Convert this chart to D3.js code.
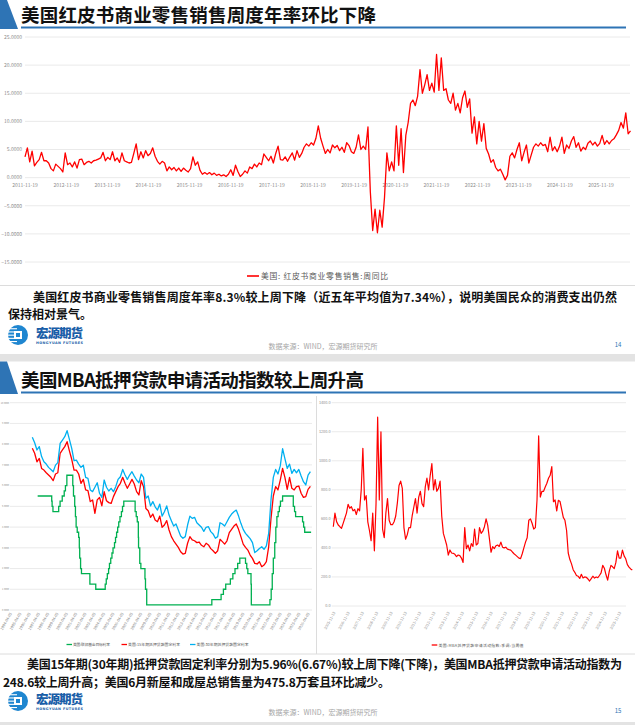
<!DOCTYPE html>
<html><head><meta charset="utf-8">
<script src="https://cdn.jsdelivr.net/npm/d3@7"></script>
<style>body{margin:0;background:#fff}svg{display:block}</style>
</head><body><svg id="c" width="635" height="725"></svg>
<script>
// ---------- Slide 14: Redbook weekly YoY ----------
const redbookTitle = "美国红皮书商业零售销售周度年率环比下降";
const redbookLegend = "美国: 红皮书商业零售销售:周同比";
const redbookStart = "2011-11-19";
const redbookStepDays = 21;
const redbookValues = [3.7,5.3,2.8,4.7,2.1,2.7,3.2,4.5,3.0,
3.0,2.6,1.6,1.2,2.4,2.0,1.6,1.0,
4.4,2.3,2.6,1.9,2.8,1.7,3.2,3.3,2.3,
2.7,2.9,2.6,3.0,3.1,3.3,3.5,4.5,3.0,
3.6,3.2,4.6,3.0,3.5,2.7,4.4,3.0,
2.8,2.6,2.7,4.3,6.0,3.2,4.6,3.5,4.8,
3.9,4.3,5.3,3.8,2.9,2.4,2.9,2.6,
1.2,1.9,1.4,1.8,1.2,1.7,1.1,1.7,1.3,
1.0,1.6,3.7,2.2,2.8,1.3,0.6,0.9,0.6,
0.9,0.5,0.8,0.4,0.6,0.3,0.5,0.2,
0.6,1.4,0.4,2.2,1.1,0.2,0.6,1.2,0.8,
1.9,1.6,2.4,1.9,2.6,2.3,4.2,3.6,
3.0,3.8,2.6,4.3,5.6,3.2,3.1,3.7,2.9,
3.7,4.4,3.1,4.8,3.6,4.3,5.4,6.0,5.6,
6.2,5.8,7.0,9.2,7.0,5.6,4.3,5.0,
4.4,5.8,5.3,5.7,4.8,5.4,4.5,6.2,
5.7,4.6,4.3,5.4,7.6,5.0,5.6,5.0,9.0,
-2.5,-9.4,-5.6,-9.8,-5.8,-8.8,-3.5,4.4,1.2,
2.8,1.2,9.2,2.2,8.7,0.9,7.5,9.8,
13.2,13.8,12.8,14.5,19.2,15.0,16.5,18.3,15.5,16.8,15.2,21.9,15.5,21.3,15.5,15.8,13.8,13.2,15.0,12.0,13.2,11.5,14.2,15.4,12.5,14.0,
7.9,10.8,6.0,10.0,6.5,9.6,5.2,4.2,2.7,3.2,1.8,1.2,1.5,0.6,-0.4,0.4,3.8,4.4,3.5,5.0,6.2,
3.0,4.5,5.8,2.6,4.0,5.4,6.0,5.6,6.2,5.7,5.9,4.6,7.2,4.8,5.5,4.6,5.6,7.2,4.3,5.8,5.2,6.5,7.3,5.4,6.2,4.7,5.4,5.0,6.1,6.5,5.8,6.3,5.6,6.1,7.5,5.9,6.6,6.0,6.6,6.9,7.6,8.4,9.8,8.8,11.5,7.8,8.3];
const redbookXTicks = ["2011-11-19","2012-11-19","2013-11-19","2014-11-19","2015-11-19","2016-11-19","2017-11-19","2018-11-19","2019-11-19","2020-11-19","2021-11-19","2022-11-19","2023-11-19","2024-11-19","2025-11-19"];
const redbookYTicks = [25,20,15,10,5,0,-5,-10,-15];
const text14 = ["美国红皮书商业零售销售周度年率8.3%较上周下降（近五年平均值为7.34%），说明美国民众的消费支出仍然","保持相对景气。"];

// ---------- Slide 15: mortgage rates & MBA ----------
const mbaTitle = "美国MBA抵押贷款申请活动指数较上周升高";
const rateNames = ["美国:联邦基金目标利率","美国:15年期抵押贷款固定利率","美国:30年期抵押贷款固定利率"];
const mortgageStart = "1996-08-29";
const mortgageStepDays = 91;
const rate30 = [8.33,8.07,7.72,7.88,7.40,7.15,7.04,6.88,6.78,6.67,
6.99,7.11,8.04,8.20,8.36,8.65,8.23,7.80,7.20,7.23,
7.04,6.88,6.99,6.40,6.35,5.79,5.71,5.92,6.14,5.63,
5.43,6.27,5.92,5.74,5.87,5.71,5.95,6.30,6.43,6.78,
6.51,6.30,6.51,6.67,6.46,6.27,6.14,6.56,6.40,5.39,
5.50,5.02,5.23,4.98,4.82,5.11,4.53,4.74,5.02,4.58,
4.31,4.05,4.15,3.86,3.57,3.46,3.54,4.10,4.53,4.42,
4.47,4.21,4.10,3.99,3.79,3.99,4.02,3.78,3.67,3.46,
3.54,4.21,4.15,4.05,4.26,4.47,4.63,4.74,4.82,4.53,
4.18,3.89,3.70,3.57,3.44,3.25,2.77,2.86,2.97,3.05,
2.93,3.09,3.70,5.31,6.40,6.78,6.56,6.95,7.78,7.30,
6.83,7.04,6.59,6.78,6.62,6.78,6.46,6.19,6.03,6.51,6.67];
const rate15 = [7.80,7.56,7.15,7.31,6.83,6.75,6.62,6.51,6.40,6.24,
6.56,6.62,7.56,7.72,7.88,8.12,7.68,7.27,6.75,6.75,
6.56,6.11,6.30,5.79,5.76,5.23,5.31,4.66,5.31,5.43,
5.02,5.71,5.27,5.18,5.14,5.47,5.71,5.95,6.11,6.40,
6.11,5.87,6.08,6.30,6.08,5.71,5.55,6.24,5.95,4.90,
4.79,4.47,4.63,4.34,4.26,4.53,3.99,4.10,4.31,3.86,
3.54,3.34,3.18,3.02,2.81,2.70,2.73,3.22,3.54,3.38,
3.34,3.25,3.28,3.12,3.05,3.22,3.14,2.96,2.86,2.73,
2.86,3.41,3.30,3.18,3.34,3.73,3.89,4.05,4.15,3.89,
3.54,3.18,3.02,2.89,2.65,2.49,2.25,2.22,2.33,2.09,
2.17,2.33,3.05,4.42,5.50,5.95,5.79,6.27,6.83,6.40,
5.82,6.40,5.87,5.79,5.95,5.98,5.63,5.43,5.47,5.82,5.96];
const fedDates = ["1997-03-26","1998-09-29","1998-10-15","1998-11-17","1999-06-30","1999-08-24","1999-11-16","2000-02-02","2000-03-21","2000-05-16",
"2001-01-03","2001-01-31","2001-03-20","2001-04-18","2001-05-15","2001-06-27","2001-08-21","2001-09-17","2001-10-02","2001-11-06","2001-12-11",
"2002-11-06","2003-06-25","2004-06-30","2004-08-10","2004-09-21","2004-11-10","2004-12-14","2005-02-02","2005-03-22","2005-05-03","2005-06-30",
"2005-08-09","2005-09-20","2005-11-01","2005-12-13","2006-01-31","2006-03-28","2006-05-10","2006-06-29","2007-09-18","2007-10-31","2007-12-11",
"2008-01-22","2008-01-30","2008-03-18","2008-04-30","2008-10-08","2008-10-29","2008-12-16","2015-12-17","2016-12-15","2017-03-16","2017-06-15",
"2017-12-14","2018-03-22","2018-06-14","2018-09-27","2018-12-20","2019-08-01","2019-09-19","2019-10-31","2020-03-04","2020-03-16","2022-03-17",
"2022-05-05","2022-06-16","2022-07-28","2022-09-22","2022-11-03","2022-12-15","2023-02-02","2023-03-23","2023-05-04","2023-07-27","2024-09-19",
"2024-11-08","2024-12-19","2025-09-18","2025-10-30","2025-12-11","2026-08-20"];
const fedRates = [5.50,5.25,5.00,4.75,5.00,5.25,5.50,5.75,6.00,6.50,
6.00,5.50,5.00,4.50,4.00,3.75,3.50,3.00,2.50,2.00,1.75,
1.25,1.00,1.25,1.50,1.75,2.00,2.25,2.50,2.75,3.00,3.25,
3.50,3.75,4.00,4.25,4.50,4.75,5.00,5.25,4.75,4.50,4.25,
3.50,3.00,2.25,2.00,1.50,1.00,0.25,0.50,0.75,1.00,1.25,
1.50,1.75,2.00,2.25,2.50,2.25,2.00,1.75,1.25,0.25,0.50,
1.00,1.75,2.50,3.25,4.00,4.50,4.75,5.00,5.25,5.50,5.00,
4.75,4.50,4.25,4.00,3.75,3.75];
const rateYTicks = [0,1,2,3,4,5,6,7,8,9,10];
const rateXTicks = ["1994-04-05","1995-04-05","1996-04-05","1997-04-05","1998-04-05","1999-04-05","2000-04-05","2001-04-05","2002-04-05","2003-04-05","2004-04-05","2005-04-05","2006-04-05","2007-04-05","2008-04-05","2009-04-05","2010-04-05","2011-04-05","2012-04-05","2013-04-05","2014-04-05","2015-04-05","2016-04-05","2017-04-05","2018-04-05","2019-04-05","2020-04-05","2021-04-05","2022-04-05","2023-04-05","2024-04-05","2025-04-05","2026-04-05"];

const mbaName = "美国:MBA抵押贷款申请活动指数:季调:当周值";
const mbaStart = "2005-11-13";
const mbaStepDays = 42;
const mbaValues = [546,640,581,558,546,535,569,604,640,700,
673,684,655,665,630,670,655,800,1086,730,
760,580,520,450,640,380,700,1300,730,1200,
530,470,640,740,590,560,560,580,620,710,
830,860,810,540,460,490,540,540,620,680,
740,640,750,790,705,684,822,880,800,900,
980,800,870,790,810,860,620,500,460,420,
351,386,365,363,356,340,351,347,330,300,
540,395,420,380,430,410,530,420,430,540,
500,515,546,600,555,466,370,409,395,415,
420,410,440,405,400,405,392,388,385,372,
360,350,340,330,326,360,400,440,470,590,
600,570,530,540,730,1171,750,790,790,820,
845,880,900,960,718,730,655,728,720,665,
610,590,520,365,320,290,250,232,210,205,
190,218,193,200,198,186,172,188,205,192,
200,195,210,228,280,260,215,178,240,280,
270,258,300,380,330,330,385,345,325,285,
268,255,248];
const mbaYTicks = [0,200,400,600,800,1000,1200,1400];
const mbaXTicks = ["2005-11-13","2006-11-13","2007-11-13","2008-11-13","2009-11-13","2010-11-13","2011-11-13","2012-11-13","2013-11-13","2014-11-13","2015-11-13","2016-11-13","2017-11-13","2018-11-13","2019-11-13","2020-11-13","2021-11-13","2022-11-13","2023-11-13","2024-11-13","2025-11-13"];
const text15 = ["美国15年期(30年期)抵押贷款固定利率分别为5.96%(6.67%)较上周下降(下降)，美国MBA抵押贷款申请活动指数为","248.6较上周升高；美国6月新屋和成屋总销售量为475.8万套且环比减少。"];
const sourceText = "数据来源：WIND，宏源期货研究所";
const pageNums = ["14","15"];

// ---------- drawing ----------
const FONT = "'Noto Sans CJK SC','Noto Sans',sans-serif";
const BLUE = "#2E74B5";
const GRID = "#e4e4e4";
const LABEL = "#8c8c8c";
const parse = d3.timeParse("%Y-%m-%d");
const svg = d3.select("#c");

function series(start, step, vals) {
  const s = parse(start);
  return vals.map((v, i) => ({date: d3.timeDay.offset(s, step * i), v}));
}

function header(top, bottom, title, len) {
  svg.append("polygon").attr("points", `0,${top} 7,${top} 18,${bottom} 0,${bottom}`).attr("fill", BLUE);
  svg.append("rect").attr("x", 21).attr("y", bottom - 2.5).attr("width", 605).attr("height", 2).attr("fill", BLUE);
  svg.append("text").attr("x", 21).attr("y", bottom - 7.5).attr("font-family", FONT).attr("font-weight", 700)
    .attr("font-size", 18.5).attr("fill", "#111").attr("textLength", len).attr("lengthAdjust", "spacing").text(title);
}

function logo(x, y, page) {
  const g = svg.append("g").attr("transform", `translate(${x},${y})`);
  g.append("circle").attr("cx", 10).attr("cy", 10).attr("r", 10).attr("fill", "#1f86d0");
  [3.2, 6.4, 9.6, 12.8, 16].forEach(yy => g.append("rect").attr("x", 0).attr("y", yy).attr("width", 9).attr("height", 1.1).attr("fill", "#fff"));
  g.append("rect").attr("x", 6).attr("y", 6).attr("width", 8).attr("height", 8).attr("fill", "#fff");
  g.append("rect").attr("x", 8).attr("y", 8).attr("width", 4).attr("height", 4).attr("fill", "#1f86d0");
  g.append("text").attr("x", 28).attr("y", 12.5).attr("font-family", FONT).attr("font-weight", 900).attr("font-size", 12.5)
    .attr("fill", "#1a5ea8").attr("textLength", 47).text("宏源期货");
  g.append("text").attr("x", 28).attr("y", 18.5).attr("font-family", "'DejaVu Sans',sans-serif").attr("font-weight", 700).attr("font-size", 3.4)
    .attr("fill", "#1a5ea8").attr("textLength", 47).text("HONGYUAN FUTURES");
  svg.append("text").attr("x", 323).attr("y", y + 23.5).attr("text-anchor", "middle").attr("font-family", FONT)
    .attr("font-size", 7).attr("fill", "#a6a6a6").text(sourceText);
  svg.append("text").attr("x", 618).attr("y", y + 22).attr("text-anchor", "middle").attr("font-family", FONT)
    .attr("font-size", 6).attr("fill", BLUE).text(page);
}

function body(lines, ys, xs, lens) {
  lines.forEach((t, i) => {
    const e = svg.append("text").attr("x", xs[i]).attr("y", ys[i]).attr("font-family", FONT).attr("font-weight", 700)
      .attr("font-size", 12).attr("fill", "#111").text(t);
    if (lens[i]) e.attr("textLength", lens[i]).attr("lengthAdjust", "spacing");
  });
}

// ===== Slide 14 =====
header(0, 29, redbookTitle, 355);
{
  const data = series(redbookStart, redbookStepDays, redbookValues);
  const x = d3.scaleTime().domain([parse("2011-11-19"), parse("2025-11-19")]).range([25, 601]);
  const y = d3.scaleLinear().domain([-15, 25]).range([262, 37]);
  const g = svg.append("g");
  redbookYTicks.forEach(t => {
    g.append("line").attr("x1", 25).attr("x2", 630).attr("y1", y(t)).attr("y2", y(t)).attr("stroke", GRID).attr("stroke-width", 0.8);
    g.append("text").attr("x", 22).attr("y", y(t)).attr("dy", "0.35em").attr("text-anchor", "end")
      .attr("font-family", FONT).attr("font-size", 5).attr("fill", LABEL).text(d3.format(".4f")(t));
  });
  redbookXTicks.forEach(t => {
    g.append("text").attr("x", x(parse(t))).attr("y", 187).attr("text-anchor", "middle")
      .attr("font-family", FONT).attr("font-size", 5).attr("fill", LABEL).text(t);
  });
  g.append("path").datum(data).attr("fill", "none").attr("stroke", "#FF0000").attr("stroke-width", 1.3)
    .attr("stroke-linejoin", "round").attr("d", d3.line().x(d => x(d.date)).y(d => y(d.v)));
  g.append("line").attr("x1", 247).attr("x2", 259).attr("y1", 276).attr("y2", 276).attr("stroke", "#FF0000").attr("stroke-width", 1.6);
  g.append("text").attr("x", 261).attr("y", 278.8).attr("font-family", FONT).attr("font-size", 7.8).attr("fill", "#595959")
    .attr("textLength", 127).text(redbookLegend);
  svg.append("line").attr("x1", 0).attr("x2", 635).attr("y1", 285.5).attr("y2", 285.5).attr("stroke", "#dcdcdc").attr("stroke-width", 1);
}
body(text14, [301.5, 319], [33, 8], [584, 0]);
logo(8, 325, pageNums[0]);
svg.append("rect").attr("x", 0).attr("y", 354).attr("width", 635).attr("height", 7.5).attr("fill", "#e3e3e3");

// ===== Slide 15 =====
header(361.5, 394, mbaTitle, 343);
{
  // left panel: rates
  const x = d3.scaleTime().domain([parse("1994-04-05"), parse("2026-09-24")]).range([10, 312]);
  const y = d3.scaleLinear().domain([0, 10]).range([610, 402.7]);
  const g = svg.append("g");
  rateYTicks.forEach(t => {
    g.append("line").attr("x1", 10).attr("x2", 312).attr("y1", y(t)).attr("y2", y(t)).attr("stroke", GRID).attr("stroke-width", 0.8);
    g.append("text").attr("x", 9).attr("y", y(t)).attr("dy", "0.35em").attr("text-anchor", "end")
      .attr("font-family", FONT).attr("font-size", 2.3).attr("fill", LABEL).text(d3.format(".4f")(t));
  });
  rateXTicks.forEach(t => {
    g.append("text").attr("transform", `translate(${x(parse(t)) + 1},613) rotate(-60)`).attr("text-anchor", "end")
      .attr("dy", "0.35em").attr("font-family", FONT).attr("font-size", 3.8).attr("fill", LABEL).text(t);
  });
  const fed = fedDates.map((d, i) => ({date: parse(d), v: fedRates[i]}));
  const line = d3.line().x(d => x(d.date)).y(d => y(d.v));
  g.append("path").datum(fed).attr("fill", "none").attr("stroke", "#00B050").attr("stroke-width", 1.3)
    .attr("d", d3.line().curve(d3.curveStepAfter).x(d => x(d.date)).y(d => y(d.v)));
  g.append("path").datum(series(mortgageStart, mortgageStepDays, rate15)).attr("fill", "none").attr("stroke", "#FF0000")
    .attr("stroke-width", 1.3).attr("stroke-linejoin", "round").attr("d", line);
  g.append("path").datum(series(mortgageStart, mortgageStepDays, rate30)).attr("fill", "none").attr("stroke", "#00B0F0")
    .attr("stroke-width", 1.3).attr("stroke-linejoin", "round").attr("d", line);
  const leg = [[66.5, "#00B050", 37], [121.5, "#FF0000", 52], [190, "#00B0F0", 52]];
  rateNames.forEach((n, i) => {
    g.append("line").attr("x1", leg[i][0]).attr("x2", leg[i][0] + 5.5).attr("y1", 644.5).attr("y2", 644.5).attr("stroke", leg[i][1]).attr("stroke-width", 1.3);
    g.append("text").attr("x", leg[i][0] + 6.5).attr("y", 646).attr("font-family", FONT).attr("font-size", 3.8).attr("fill", "#595959")
      .attr("textLength", leg[i][2]).text(n);
  });
  svg.append("line").attr("x1", 316.5).attr("x2", 316.5).attr("y1", 396).attr("y2", 654).attr("stroke", "#dcdcdc").attr("stroke-width", 1);
}
{
  // right panel: MBA index
  const data = series(mbaStart, mbaStepDays, mbaValues);
  const x = d3.scaleTime().domain([parse(mbaStart), data[data.length - 1].date]).range([333.3, 632.3]);
  const y = d3.scaleLinear().domain([0, 1400]).range([606, 402.7]);
  const g = svg.append("g");
  mbaYTicks.forEach(t => {
    g.append("line").attr("x1", 331.7).attr("x2", 626).attr("y1", y(t)).attr("y2", y(t)).attr("stroke", GRID).attr("stroke-width", 0.8);
    g.append("text").attr("x", 330.5).attr("y", y(t)).attr("dy", "0.35em").attr("text-anchor", "end")
      .attr("font-family", FONT).attr("font-size", 3.8).attr("fill", LABEL).text(d3.format(".1f")(t));
  });
  mbaXTicks.forEach(t => {
    g.append("text").attr("transform", `translate(${x(parse(t)) + 1},612) rotate(-62)`).attr("text-anchor", "end")
      .attr("dy", "0.35em").attr("font-family", FONT).attr("font-size", 3.8).attr("fill", LABEL).text(t);
  });
  g.append("path").datum(data).attr("fill", "none").attr("stroke", "#FF0000").attr("stroke-width", 1.2)
    .attr("stroke-linejoin", "round").attr("d", d3.line().x(d => x(d.date)).y(d => y(d.v)));
  g.append("line").attr("x1", 431.7).attr("x2", 437.3).attr("y1", 645).attr("y2", 645).attr("stroke", "#FF0000").attr("stroke-width", 1.3);
  g.append("text").attr("x", 438.5).attr("y", 646.5).attr("font-family", FONT).attr("font-size", 3.9).attr("fill", "#595959")
    .attr("textLength", 85).text(mbaName);
}
svg.append("line").attr("x1", 0).attr("x2", 635).attr("y1", 654).attr("y2", 654).attr("stroke", "#dcdcdc").attr("stroke-width", 1);
body(text15, [669, 687], [27, 3], [595, 387]);
logo(8, 691, pageNums[1]);
svg.append("rect").attr("x", 0).attr("y", 722).attr("width", 635).attr("height", 3).attr("fill", "#e3e3e3");
</script></body></html>
